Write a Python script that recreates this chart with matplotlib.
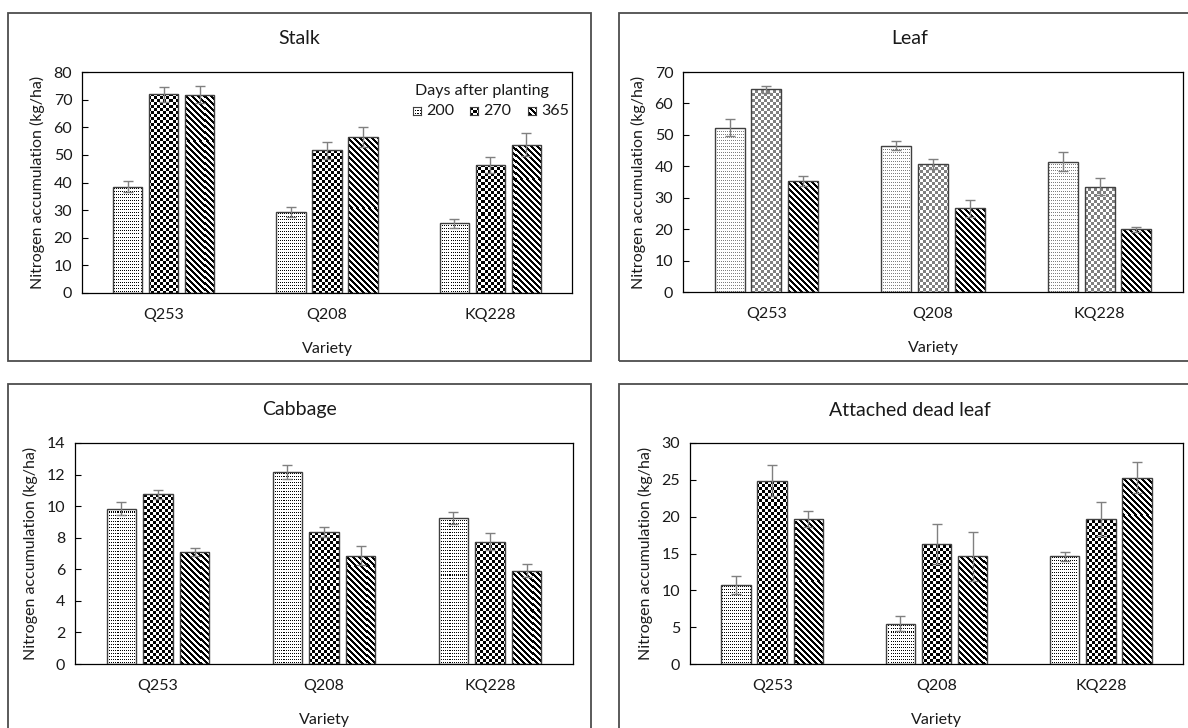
import numpy as np
import matplotlib
matplotlib.use('Agg')
import matplotlib.pyplot as plt
from matplotlib.patches import Rectangle

plt.rcParams['font.family'] = ['Lato', 'DejaVu Sans']

## Data
varieties = ['Q253', 'Q208', 'KQ228']
days = ['200', '270', '365']

stalk_mean = {'200': [38.4, 29.3, 25.2], '270': [71.9, 51.6, 46.4], '365': [71.8, 56.5, 53.7]}
stalk_err = {'200': [2.0, 1.7, 1.5], '270': [2.6, 3.1, 2.8], '365': [3.0, 3.5, 4.1]}

leaf_mean = {'200': [52.3, 46.5, 41.4], '270': [64.5, 40.8, 33.5], '365': [35.2, 26.6, 19.9]}
leaf_err = {'200': [2.7, 1.4, 3.0], '270': [1.2, 1.6, 2.7], '365': [1.6, 2.8, 0.9]}

cabbage_mean = {'200': [9.85, 12.16, 9.26], '270': [10.74, 8.37, 7.76], '365': [7.08, 6.87, 5.9]}
cabbage_err = {'200': [0.44, 0.44, 0.4], '270': [0.3, 0.34, 0.53], '365': [0.25, 0.59, 0.42]}

dead_mean = {'200': [10.73, 5.48, 14.6], '270': [24.9, 16.25, 19.7], '365': [19.7, 14.6, 25.3]}
dead_err = {'200': [1.2, 1.05, 0.64], '270': [2.15, 2.74, 2.28], '365': [1.05, 3.3, 2.15]}

W, H = 1188, 728
fig = plt.figure(figsize=(W / 100, H / 100), dpi=100, facecolor='w')
TXT = '#1a1a1a'
FS = 11.5


def px_axes(l, r, t, b):
    return fig.add_axes([l / W, 1 - b / H, (r - l) / W, (b - t) / H])


def texture(kind, h, w, color):
    ii, jj = np.mgrid[0:h, 0:w]
    if kind == 'dots':
        mask = (ii % 2 == 0) & ((jj + (ii // 2) % 2) % 2 == 0)
        mask = (ii % 3 == 0) & (jj % 2 == 0)
    elif kind == 'checker':
        mask = ((ii // 3 + jj // 3) % 2) == 0
    else:
        mask = ((jj - ii) % 6) < 3
    arr = np.ones((h, w, 4))
    arr[mask, :3] = color
    return arr


def frame(l, r, t, b):
    fig.add_artist(Rectangle((l / W, 1 - b / H), (r - l) / W, (b - t) / H,
                             transform=fig.transFigure, fill=False,
                             edgecolor='#4d4d4d', lw=1.3))


def panel(box, fbox, title, means, errs, ymax, ystep, styles):
    l, r, t, b = box
    frame(*fbox)
    ax = px_axes(l, r, t, b)
    ax.set_xlim(-0.5, 2.5)
    ax.set_ylim(0, ymax)
    ax.set_autoscale_on(False)
    x = np.arange(len(varieties))
    for k, d in enumerate(days):
        kind, col = styles[k]
        tex = texture(kind, int(b - t), int(r - l), col)
        bars = ax.bar(x + (k - 1) * 0.22, means[d], width=0.18, facecolor='none',
                      edgecolor='#404040', lw=1.0, zorder=3)
        for bar in bars:
            im = ax.imshow(tex, extent=(-0.5, 2.5, 0, ymax), aspect='auto',
                           interpolation='nearest', zorder=2)
            im.set_clip_path(bar)
        ax.errorbar(x + (k - 1) * 0.22, means[d], yerr=errs[d], fmt='none',
                    ecolor='#808080', elinewidth=1.0, capsize=3.5, capthick=1.0, zorder=5)
    ax.set_xlim(-0.5, 2.5)
    ax.set_ylim(0, ymax)
    ax.set_yticks(np.arange(0, ymax + 0.01, ystep))
    ax.set_xticks(x)
    ax.set_xticklabels(varieties)
    ax.tick_params(axis='x', length=0, pad=11, labelsize=FS, labelcolor=TXT)
    ax.tick_params(axis='y', direction='in', length=4, width=0.8, pad=7,
                   labelsize=FS, labelcolor=TXT)
    for s in ax.spines.values():
        s.set_linewidth(0.9)
    ax.set_xlabel('Variety', fontsize=FS, color=TXT, labelpad=14)
    ax.set_ylabel('Nitrogen accumulation (kg/ha)', fontsize=FS, color=TXT, labelpad=6)
    fig.text(((fbox[0] + min(fbox[1], 1200)) / 2) / W, 1 - (t - 33) / H, title,
             ha='center', va='center', fontsize=14, color=TXT)
    return ax


black = (0, 0, 0)
gray = (0.5, 0.5, 0.5)
dark_styles = [('dots', black), ('checker', black), ('stripes', black)]
leaf_styles = [('dots', gray), ('checker', gray), ('stripes', black)]

ax1 = panel((82, 572, 72, 293), (8, 591, 13, 361), 'Stalk', stalk_mean, stalk_err, 80, 10, dark_styles)
ax2 = panel((683, 1183, 72, 292), (619, 1200, 13, 361), 'Leaf', leaf_mean, leaf_err, 70, 10, leaf_styles)
ax3 = panel((75, 573, 443, 664), (8, 591, 384, 745), 'Cabbage', cabbage_mean, cabbage_err, 14, 2, dark_styles)
ax4 = panel((690, 1183, 443, 664), (619, 1200, 384, 745), 'Attached dead leaf', dead_mean, dead_err, 30, 5, dark_styles)

## Legend (Stalk panel)
fig.text(482 / W, 1 - 91 / H, 'Days after planting', ha='center', va='center', fontsize=FS, color=TXT)
leg_x = [413, 470, 528]
for k, d in enumerate(days):
    kind, col = dark_styles[k]
    lax = fig.add_axes([leg_x[k] / W, 1 - 115 / H, 8 / W, 8 / H])
    lax.imshow(texture(kind, 8, 8, col), interpolation='nearest', aspect='auto')
    lax.set_xticks([])
    lax.set_yticks([])
    for s in lax.spines.values():
        s.set_linewidth(0.8)
        s.set_edgecolor('#404040')
    fig.text((leg_x[k] + 13) / W, 1 - 111 / H, d, ha='left', va='center', fontsize=FS, color=TXT)

plt.savefig('out.png', dpi=100)
